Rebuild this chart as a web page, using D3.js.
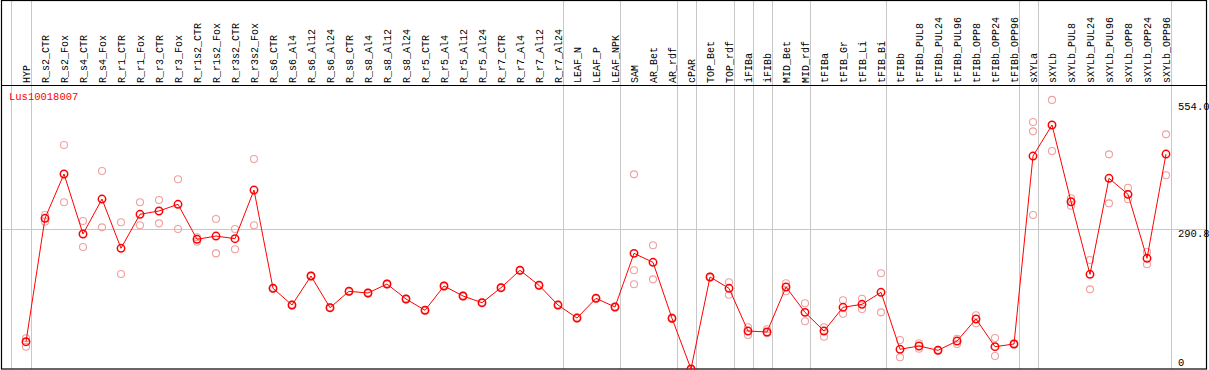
<!DOCTYPE html>
<html>
<head>
<meta charset="utf-8">
<script src="https://cdn.jsdelivr.net/npm/d3@7"></script>
<style>
  body { margin: 0; background: white; }
  text { font-family: "Liberation Mono", "DejaVu Sans Mono", monospace; }
</style>
</head>
<body>
<div id="canvas"></div>
<script>
"use strict"

/* data */
let geneName = "Lus10018007";

let categories = ["HYP", "R_s2_CTR", "R_s2_Fox", "R_s4_CTR", "R_s4_Fox", "R_r1_CTR", "R_r1_Fox",
  "R_r3_CTR", "R_r3_Fox", "R_r1s2_CTR", "R_r1s2_Fox", "R_r3s2_CTR", "R_r3s2_Fox",
  "R_s6_CTR", "R_s6_Al4", "R_s6_Al12", "R_s6_Al24", "R_s8_CTR", "R_s8_Al4", "R_s8_Al12", "R_s8_Al24",
  "R_r5_CTR", "R_r5_Al4", "R_r5_Al12", "R_r5_Al24", "R_r7_CTR", "R_r7_Al4", "R_r7_Al12", "R_r7_Al24",
  "LEAF_N", "LEAF_P", "LEAF_NPK", "SAM", "AR_Bet", "AR_rdf", "cPAR", "TOP_Bet", "TOP_rdf",
  "iFIBa", "iFIBb", "MID_Bet", "MID_rdf", "tFIBa", "tFIB_Gr", "tFIB_Li", "tFIB_Bi",
  "tFIBb", "tFIBb_PUL8", "tFIBb_PUL24", "tFIBb_PUL96", "tFIBb_OPP8", "tFIBb_OPP24", "tFIBb_OPP96",
  "sXYLa", "sXYLb", "sXYLb_PUL8", "sXYLb_PUL24", "sXYLb_PUL96", "sXYLb_OPP8", "sXYLb_OPP24", "sXYLb_OPP96"];

let meanValues = [56.5, 311.9, 403.6, 279.4, 351.8, 249.8, 320.2, 327.0, 340.9, 268.4, 275.2, 269.7, 370.4,
  167.0, 132.4, 192.5, 126.9, 160.8, 157.3, 175.9, 144.9,
  121.5, 171.8, 151.1, 137.2, 168.3, 204.3, 173.2, 132.4,
  105.5, 146.3, 128.3, 239.4, 220.8, 104.9, 0, 190.4, 167.0,
  78.6, 76.6, 169.7, 117.3, 78.6, 127.7, 133.9, 158.7,
  40.8, 47.6, 38.7, 57.9, 103.5, 46.2, 51.7,
  440.8, 505.0, 346.2, 196.0, 394.7, 361.5, 229.1, 444.9];

let replicateValues = [
  [63.5, 55.9, 46.1], [318.7, 304.8], [463.6, 345.0], [306.3, 252.5], [409.8, 293.2],
  [303.6, 196.6], [345.0, 297.4], [349.7, 301.5], [392.6, 289.7], [272.6, 263.4],
  [310.4, 239.4], [289.7, 247.7], [434.6, 297.4],
  [168.0, 166.0], [133.4, 131.4], [193.5, 191.5], [127.9, 125.9], [161.8, 159.8], [158.3, 156.3],
  [176.9, 174.9], [145.9, 143.9], [122.5, 120.5], [172.8, 170.8], [152.1, 150.1], [138.2, 136.2],
  [169.3, 167.3], [205.3, 203.3], [174.2, 172.2], [133.4, 131.4],
  [106.5, 104.5], [147.3, 145.3], [129.3, 127.3], [402.9, 204.3, 175.3], [256.0, 185.6],
  [106.4, 103.4], [0, 0], [191.4, 189.4], [179.4, 153.8],
  [86.3, 70.4], [82.2, 73.9], [177.4, 160.8], [136.0, 98.7], [86.3, 66.8], [142.2, 114.4],
  [145.5, 124.2], [198.1, 117.3],
  [60.0, 24.2], [53.2, 42.0], [39.7, 37.7], [62.7, 51.7], [111.1, 94.6], [64.2, 26.9], [52.7, 50.7],
  [511.2, 491.9, 318.7], [557.0, 451.2], [353.3, 338.0], [225.6, 164.9], [444.3, 342.9],
  [375.2, 351.2], [242.1, 216.7], [485.7, 400.9]];

/* right hand tick labels */
let tickValues = [554.0, 290.8, 0];
let tickLabels = ["554.0", "290.8", "0"];
let yMax = 581.6;

/* vertical grey lines sit after these categories */
let separatorsAfter = ["HYP", "R_r7_Al24", "LEAF_NPK", "AR_rdf", "cPAR", "TOP_rdf", "iFIBa", "iFIBb",
  "MID_rdf", "tFIB_Bi", "tFIBb_OPP96", "sXYLa", "sXYLb_OPP96"];

let width = 1209;
let height = 370;

let drawing = d3.select("#canvas")
  .append("svg")
  .attr("width", width)
  .attr("height", height);

let x = d3.scalePoint()
  .domain(categories)
  .range([26, 1166]);

let y = d3.scaleLinear()
  .domain([0, yMax])
  .range([369, 88]);

/* grey separator lines */
let sepX = [x(categories[0]) - x.step() + 4].concat(separatorsAfter.map(c => x(c) + 5));
drawing.selectAll(".sep")
  .data(sepX)
  .enter().append("line")
  .attr("class", "sep")
  .attr("x1", d => Math.round(d) + 0.5)
  .attr("x2", d => Math.round(d) + 0.5)
  .attr("y1", 0)
  .attr("y2", 369)
  .attr("stroke", "#c8c8c8")
  .attr("stroke-width", 1);

/* mid grid line */
drawing.append("line")
  .attr("x1", 1)
  .attr("x2", 1207)
  .attr("y1", Math.round(y(290.8)) + 0.5)
  .attr("y2", Math.round(y(290.8)) + 0.5)
  .attr("stroke", "#c8c8c8")
  .attr("stroke-width", 1);

/* frame */
drawing.append("rect")
  .attr("x", 1.5)
  .attr("y", 0.5)
  .attr("width", 1205)
  .attr("height", 368.5)
  .attr("fill", "none")
  .attr("stroke", "black")
  .attr("stroke-width", 1.2);

drawing.append("line")
  .attr("x1", 1)
  .attr("x2", 1207)
  .attr("y1", 85.5)
  .attr("y2", 85.5)
  .attr("stroke", "black")
  .attr("stroke-width", 1.2);

/* category labels */
drawing.selectAll(".cat")
  .data(categories)
  .enter().append("text")
  .attr("class", "cat")
  .attr("transform", d => "translate(" + (x(d) + 4) + ",83) rotate(-90)")
  .attr("font-size", "10px")
  .attr("fill", "black")
  .text(d => d);

/* tick labels on the right */
let tickOffsets = [9, 8, -3];
drawing.selectAll(".tick")
  .data(tickValues)
  .enter().append("text")
  .attr("class", "tick")
  .attr("x", 1178)
  .attr("y", (d, i) => y(d) + tickOffsets[i])
  .attr("font-size", "10.5px")
  .attr("fill", "black")
  .text((d, i) => tickLabels[i]);

/* gene name */
drawing.append("text")
  .attr("x", 9)
  .attr("y", 100)
  .attr("font-size", "10.5px")
  .attr("fill", "red")
  .text(geneName);

/* replicate circles */
let reps = [];
replicateValues.forEach((vals, i) => vals.forEach(v => reps.push({ c: categories[i], v: v })));
drawing.selectAll(".rep")
  .data(reps)
  .enter().append("circle")
  .attr("class", "rep")
  .attr("cx", d => x(d.c))
  .attr("cy", d => y(d.v))
  .attr("r", 3.5)
  .attr("fill", "none")
  .attr("stroke", "#f0a0a0")
  .attr("stroke-width", 1.1);

/* mean line */
let line = d3.line()
  .x((d, i) => x(categories[i]))
  .y(d => y(d));

drawing.append("path")
  .attr("d", line(meanValues))
  .attr("fill", "none")
  .attr("stroke", "red")
  .attr("stroke-width", 1);

/* mean circles */
drawing.selectAll(".mean")
  .data(meanValues)
  .enter().append("circle")
  .attr("class", "mean")
  .attr("cx", (d, i) => x(categories[i]))
  .attr("cy", d => y(d))
  .attr("r", 3.7)
  .attr("fill", "none")
  .attr("stroke", "red")
  .attr("stroke-width", 1.5);
</script>
</body>
</html>
